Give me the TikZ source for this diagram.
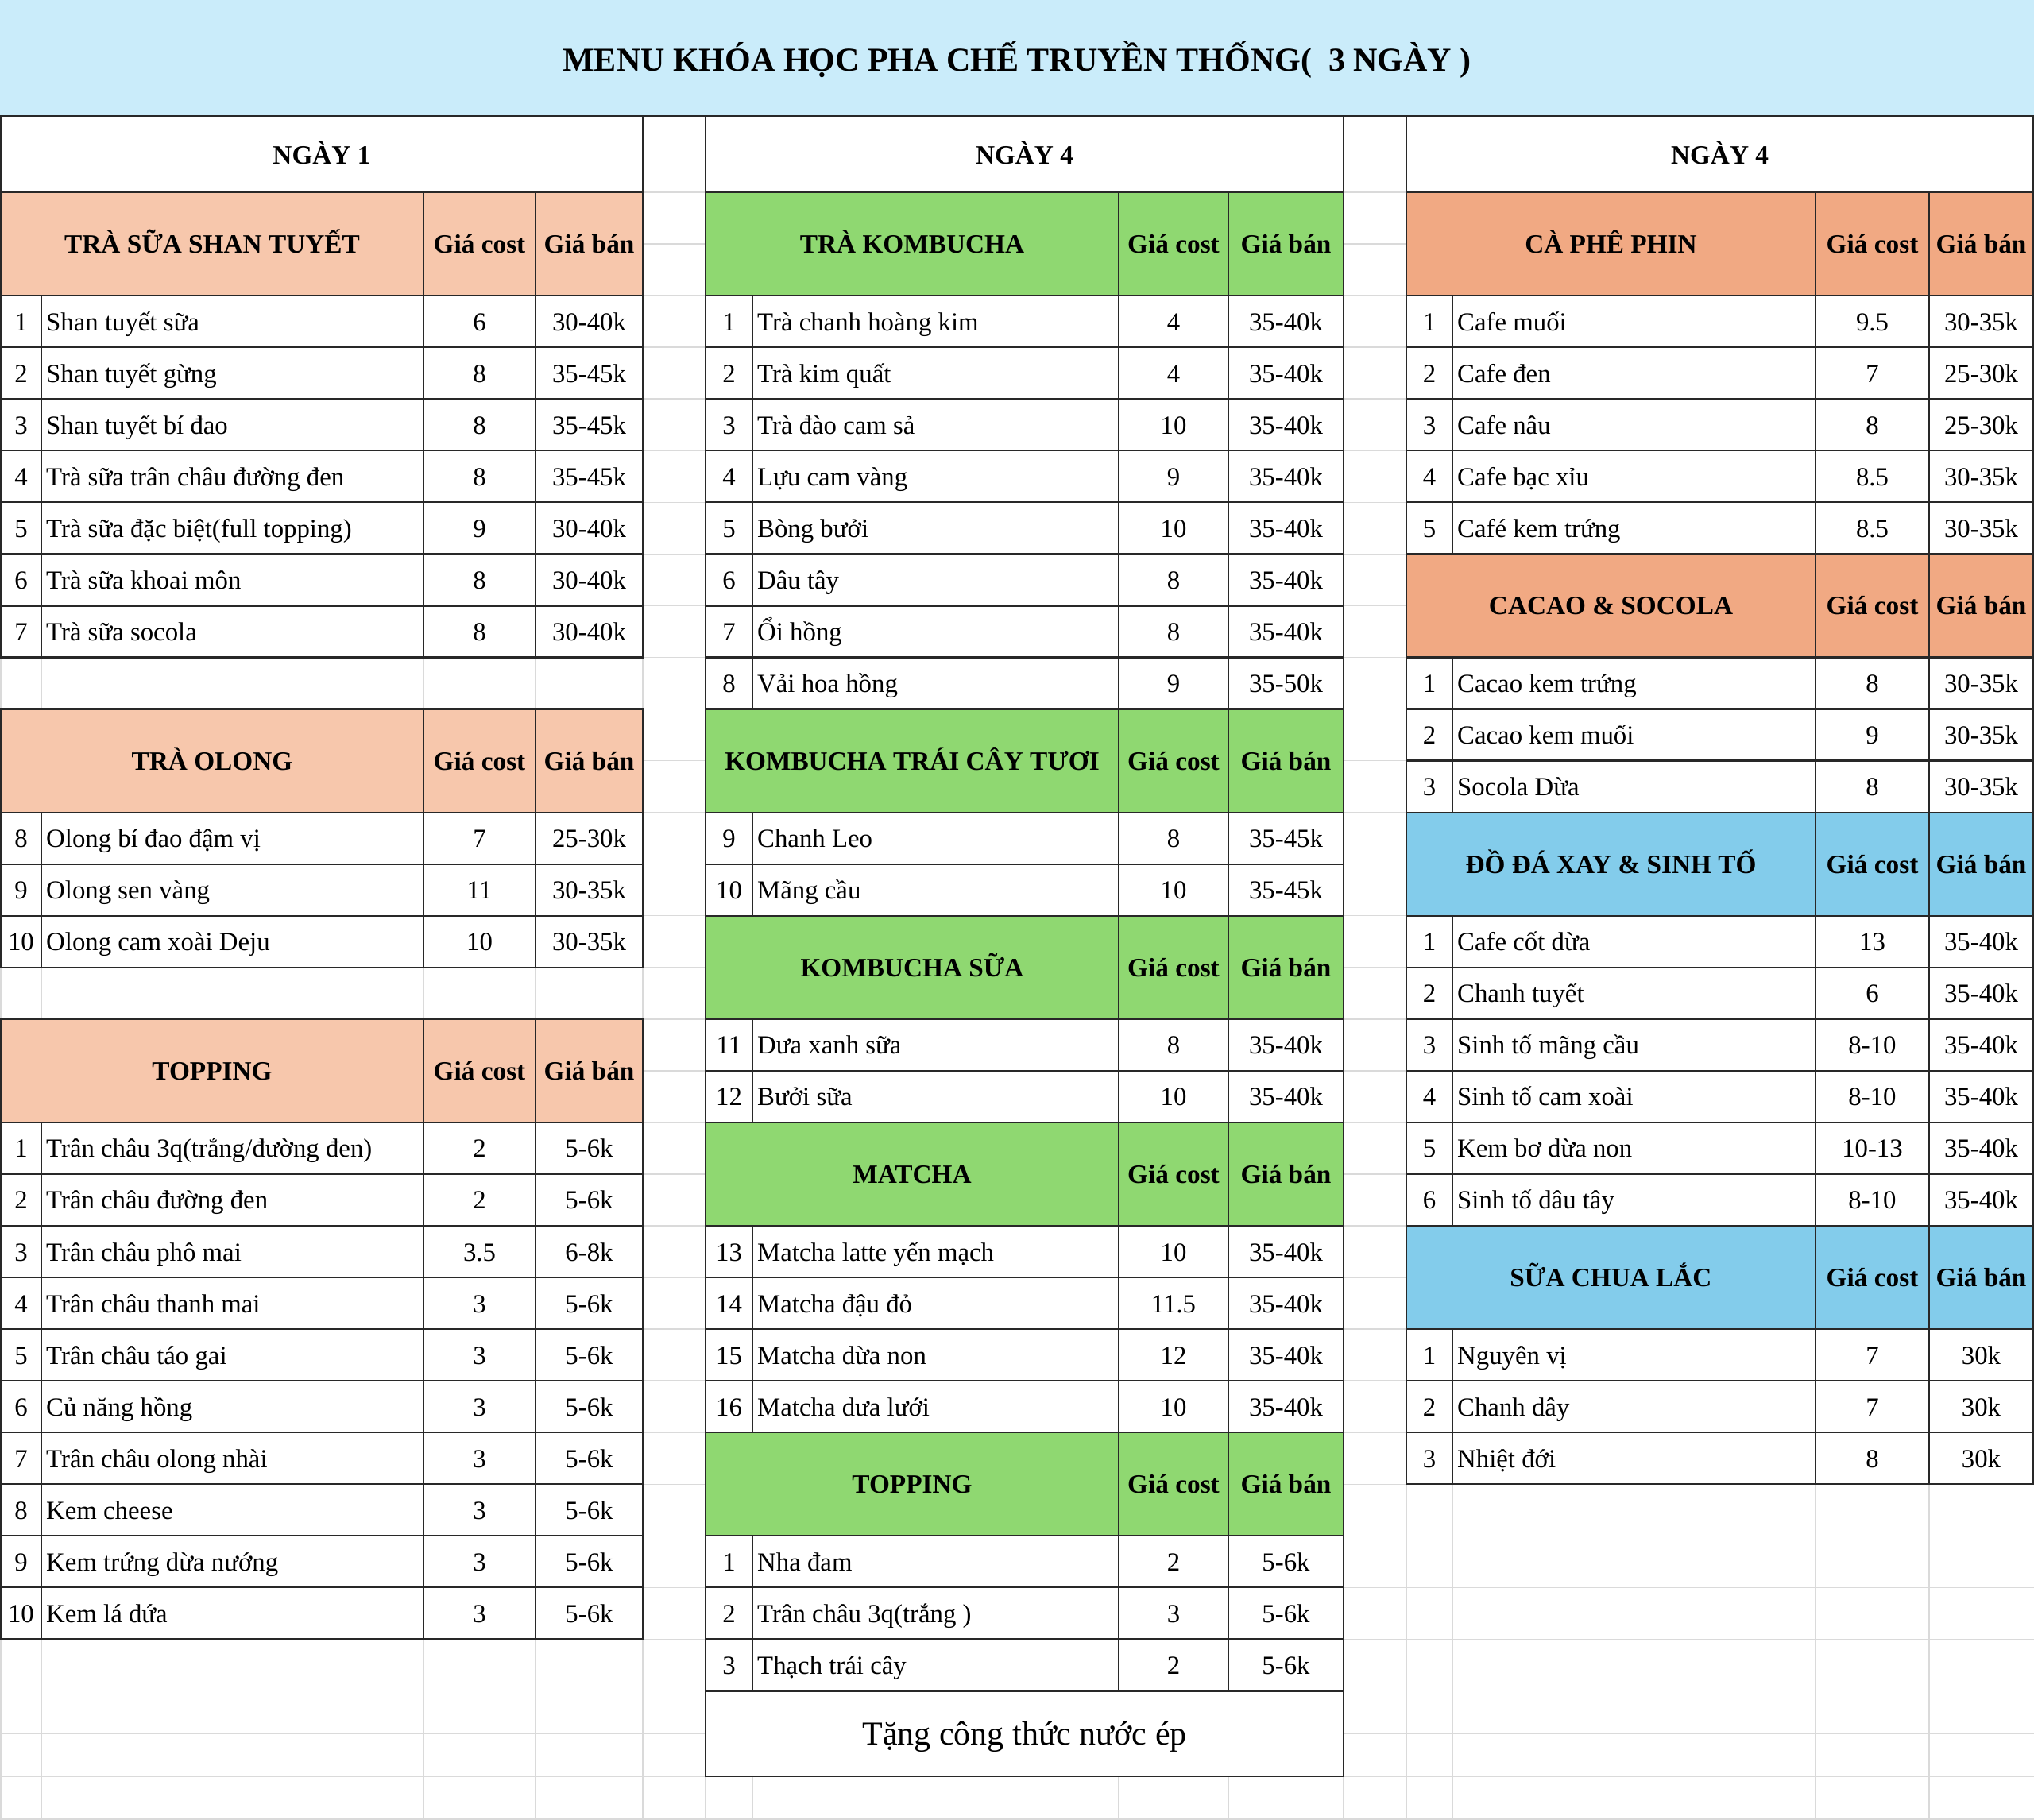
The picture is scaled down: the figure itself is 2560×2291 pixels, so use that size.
\documentclass[tikz,border=0pt]{standalone}
\usepackage{fontspec}
\setmainfont{Liberation Serif}
\definecolor{titlebg}{RGB}{202,236,250}
\definecolor{peach}{RGB}{247,199,172}
\definecolor{salmon}{RGB}{241,169,131}
\definecolor{kgreen}{RGB}{143,216,113}
\definecolor{skyb}{RGB}{131,204,235}
\definecolor{gridc}{RGB}{218,218,218}
\definecolor{linec}{RGB}{40,40,40}
\tikzset{
  dark/.style={draw=linec, line width=2.2pt},
  lite/.style={draw=gridc, line width=1.5pt},
  body/.style={font=\fontsize{32.8}{39}\selectfont, inner sep=0pt, anchor=base},
  bodyl/.style={body, anchor=base west},
  head/.style={font=\bfseries\fontsize{33.3}{40}\selectfont, inner sep=0pt, anchor=base},
}
\newcommand\setcols[5]{\def\xa{#1}\def\xb{#2}\def\xc{#3}\def\xd{#4}\def\xe{#5}}
\newcommand\itemrow[6]{%
  \pgfmathsetmacro\rowT{242+#2*65.05}%
  \pgfmathsetmacro\rowB{\rowT+65.05}%
  \pgfmathsetmacro\rowM{\rowT+32.5+11.5}%
  \fill[white] (\xa,\rowT) rectangle (\xe,\rowB);
  \draw[dark] (\xa,\rowT) rectangle (\xe,\rowB) (\xb,\rowT) -- (\xb,\rowB) (\xc,\rowT) -- (\xc,\rowB) (\xd,\rowT) -- (\xd,\rowB);
  \node[body] (#1-#2-n) at ({(\xa+\xb)/2},\rowM) {#3};
  \node[bodyl] (#1-#2-t) at ({\xb+6},\rowM) {#4};
  \node[body] (#1-#2-c) at ({(\xc+\xd)/2},\rowM) {#5};
  \node[body] (#1-#2-p) at ({(\xd+\xe)/2},\rowM) {#6};
}
\newcommand\headrow[4]{%
  \pgfmathsetmacro\rowT{242+#2*65.05}%
  \pgfmathsetmacro\rowB{\rowT+2*65.05}%
  \pgfmathsetmacro\rowM{\rowT+65.05+11.5}%
  \fill[#4] (\xa,\rowT) rectangle (\xe,\rowB);
  \draw[dark] (\xa,\rowT) rectangle (\xe,\rowB) (\xc,\rowT) -- (\xc,\rowB) (\xd,\rowT) -- (\xd,\rowB);
  \node[head] (#1-#2-h) at ({(\xa+\xc)/2},\rowM) {#3};
  \node[head] (#1-#2-hc) at ({(\xc+\xd)/2},\rowM) {Giá cost};
  \node[head] (#1-#2-hb) at ({(\xd+\xe)/2},\rowM) {Giá bán};
}
\begin{document}
\begin{tikzpicture}[x=1pt,y=-1pt]
\useasboundingbox (0,0) rectangle (2560,2291);
\fill[white] (0,0) rectangle (2560,2291);
% title band
\fill[titlebg] (0,0) rectangle (2560,146);
% light spreadsheet grid
\foreach \k in {0,...,29} {\draw[lite] (0,{242+\k*65.05}) -- (2560,{242+\k*65.05});}
\foreach \yy in {2182,2236,2290} {\draw[lite] (0,\yy) -- (2560,\yy);}
\foreach \xx in {1,52,533,674,809,888,947,1408,1546,1691,1770,1828,2285,2428} {\draw[lite] (\xx,146) -- (\xx,2291);}
\draw[dark] (0,146) -- (2560,146);
\node[font=\bfseries\fontsize{42}{50}\selectfont, inner sep=0pt, anchor=base] (title) at (1280,89) {MENU KHÓA HỌC PHA CHẾ TRUYỀN THỐNG(\ \ 3 NGÀY )};
% day cells
\fill[white] (1,146) rectangle (809,242);
\fill[white] (888,146) rectangle (1691,242);
\fill[white] (1770,146) rectangle (2559,242);
\draw[dark] (1,146) rectangle (809,242);
\draw[dark] (888,146) rectangle (1691,242);
\draw[dark] (1770,146) rectangle (2559,242);
\node[head] (L-day) at (405,206) {NGÀY 1};
\node[head] (M-day) at (1289.5,206) {NGÀY 4};
\node[head] (R-day) at (2164.5,206) {NGÀY 4};

% ---------------- left table
\setcols{1}{52}{533}{674}{809}
\headrow{L}{0}{TRÀ SỮA SHAN TUYẾT}{peach}
\itemrow{L}{2}{1}{Shan tuyết sữa}{6}{30-40k}
\itemrow{L}{3}{2}{Shan tuyết gừng}{8}{35-45k}
\itemrow{L}{4}{3}{Shan tuyết bí đao}{8}{35-45k}
\itemrow{L}{5}{4}{Trà sữa trân châu đường đen}{8}{35-45k}
\itemrow{L}{6}{5}{Trà sữa đặc biệt(full topping)}{9}{30-40k}
\itemrow{L}{7}{6}{Trà sữa khoai môn}{8}{30-40k}
\itemrow{L}{8}{7}{Trà sữa socola}{8}{30-40k}
\headrow{L}{10}{TRÀ OLONG}{peach}
\itemrow{L}{12}{8}{Olong bí đao đậm vị}{7}{25-30k}
\itemrow{L}{13}{9}{Olong sen vàng}{11}{30-35k}
\itemrow{L}{14}{10}{Olong cam xoài Deju}{10}{30-35k}
\headrow{L}{16}{TOPPING}{peach}
\itemrow{L}{18}{1}{Trân châu 3q(trắng/đường đen)}{2}{5-6k}
\itemrow{L}{19}{2}{Trân châu đường đen}{2}{5-6k}
\itemrow{L}{20}{3}{Trân châu phô mai}{3.5}{6-8k}
\itemrow{L}{21}{4}{Trân châu thanh mai}{3}{5-6k}
\itemrow{L}{22}{5}{Trân châu táo gai}{3}{5-6k}
\itemrow{L}{23}{6}{Củ năng hồng}{3}{5-6k}
\itemrow{L}{24}{7}{Trân châu olong nhài}{3}{5-6k}
\itemrow{L}{25}{8}{Kem cheese}{3}{5-6k}
\itemrow{L}{26}{9}{Kem trứng dừa nướng}{3}{5-6k}
\itemrow{L}{27}{10}{Kem lá dứa}{3}{5-6k}

% ---------------- middle table
\setcols{888}{947}{1408}{1546}{1691}
\headrow{M}{0}{TRÀ KOMBUCHA}{kgreen}
\itemrow{M}{2}{1}{Trà chanh hoàng kim}{4}{35-40k}
\itemrow{M}{3}{2}{Trà kim quất}{4}{35-40k}
\itemrow{M}{4}{3}{Trà đào cam sả}{10}{35-40k}
\itemrow{M}{5}{4}{Lựu cam vàng}{9}{35-40k}
\itemrow{M}{6}{5}{Bòng bưởi}{10}{35-40k}
\itemrow{M}{7}{6}{Dâu tây}{8}{35-40k}
\itemrow{M}{8}{7}{Ổi hồng}{8}{35-40k}
\itemrow{M}{9}{8}{Vải hoa hồng}{9}{35-50k}
\headrow{M}{10}{KOMBUCHA TRÁI CÂY TƯƠI}{kgreen}
\itemrow{M}{12}{9}{Chanh Leo}{8}{35-45k}
\itemrow{M}{13}{10}{Mãng cầu}{10}{35-45k}
\headrow{M}{14}{KOMBUCHA SỮA}{kgreen}
\itemrow{M}{16}{11}{Dưa xanh sữa}{8}{35-40k}
\itemrow{M}{17}{12}{Bưởi sữa}{10}{35-40k}
\headrow{M}{18}{MATCHA}{kgreen}
\itemrow{M}{20}{13}{Matcha latte yến mạch}{10}{35-40k}
\itemrow{M}{21}{14}{Matcha đậu đỏ}{11.5}{35-40k}
\itemrow{M}{22}{15}{Matcha dừa non}{12}{35-40k}
\itemrow{M}{23}{16}{Matcha dưa lưới}{10}{35-40k}
\headrow{M}{24}{TOPPING}{kgreen}
\itemrow{M}{26}{1}{Nha đam}{2}{5-6k}
\itemrow{M}{27}{2}{Trân châu 3q(trắng )}{3}{5-6k}
\itemrow{M}{28}{3}{Thạch trái cây}{2}{5-6k}
\pgfmathsetmacro\footT{242+29*65.05}
\fill[white] (888,\footT) rectangle (1691,2236);
\draw[dark] (888,\footT) rectangle (1691,2236);
\node[font=\fontsize{42}{50}\selectfont, inner sep=0pt, anchor=base] (M-foot) at (1289.5,2196) {Tặng công thức nước ép};

% ---------------- right table
\setcols{1770}{1828}{2285}{2428}{2559}
\headrow{R}{0}{CÀ PHÊ PHIN}{salmon}
\itemrow{R}{2}{1}{Cafe muối}{9.5}{30-35k}
\itemrow{R}{3}{2}{Cafe đen}{7}{25-30k}
\itemrow{R}{4}{3}{Cafe nâu}{8}{25-30k}
\itemrow{R}{5}{4}{Cafe bạc xỉu}{8.5}{30-35k}
\itemrow{R}{6}{5}{Café kem trứng}{8.5}{30-35k}
\headrow{R}{7}{CACAO \& SOCOLA}{salmon}
\itemrow{R}{9}{1}{Cacao kem trứng}{8}{30-35k}
\itemrow{R}{10}{2}{Cacao kem muối}{9}{30-35k}
\itemrow{R}{11}{3}{Socola Dừa}{8}{30-35k}
\headrow{R}{12}{ĐỒ ĐÁ XAY \& SINH TỐ}{skyb}
\itemrow{R}{14}{1}{Cafe cốt dừa}{13}{35-40k}
\itemrow{R}{15}{2}{Chanh tuyết}{6}{35-40k}
\itemrow{R}{16}{3}{Sinh tố mãng cầu}{8-10}{35-40k}
\itemrow{R}{17}{4}{Sinh tố cam xoài}{8-10}{35-40k}
\itemrow{R}{18}{5}{Kem bơ dừa non}{10-13}{35-40k}
\itemrow{R}{19}{6}{Sinh tố dâu tây}{8-10}{35-40k}
\headrow{R}{20}{SỮA CHUA LẮC}{skyb}
\itemrow{R}{22}{1}{Nguyên vị}{7}{30k}
\itemrow{R}{23}{2}{Chanh dây}{7}{30k}
\itemrow{R}{24}{3}{Nhiệt đới}{8}{30k}
\end{tikzpicture}
\end{document}
